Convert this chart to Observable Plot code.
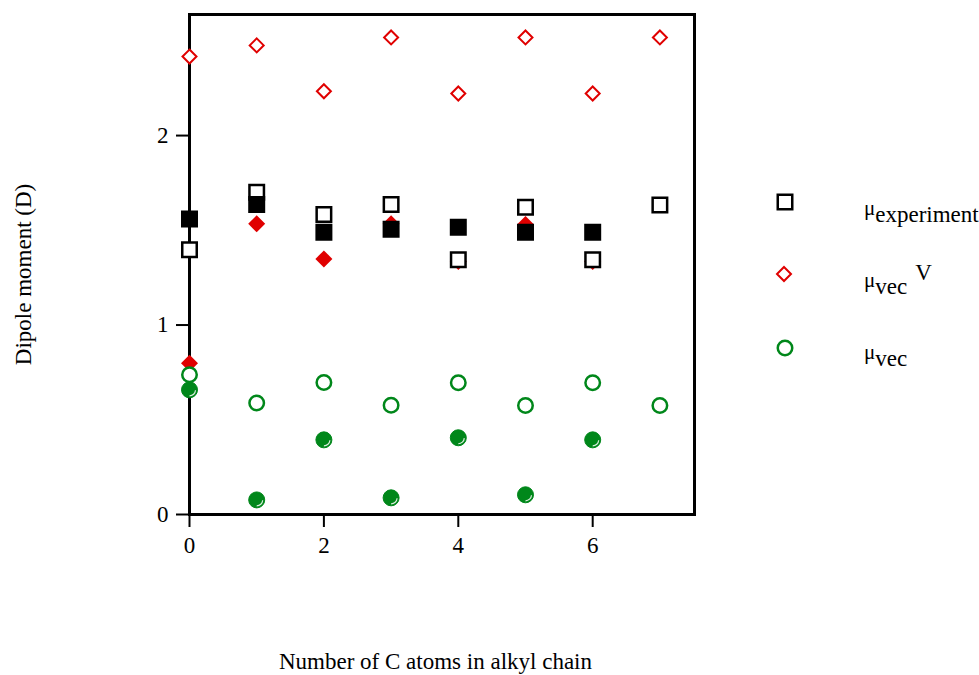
<!DOCTYPE html>
<html><head><meta charset="utf-8">
<script src="https://cdn.jsdelivr.net/npm/d3@7"></script>
<script src="https://cdn.jsdelivr.net/npm/@observablehq/plot@0.6"></script>
<style>body{margin:0;background:#fff} #chart{width:979px;height:675px}</style>
</head><body><div id="chart"></div>
<script>
// ---- data ----
const carbons = [0, 1, 2, 3, 4, 5, 6, 7];
const muExperiment = [1.398, 1.701, 1.583, 1.636, 1.344, 1.622, 1.344, 1.634];      // open black squares
const muExperimentFilled = [1.559, 1.636, 1.490, 1.506, 1.516, 1.490, 1.490];       // filled black squares (0..6)
const muVecV = [2.417, 2.476, 2.234, 2.518, 2.222, 2.518, 2.222, 2.518];            // open red diamonds
const muVecVFilled = [0.798, 1.534, 1.349, 1.535, 1.335, 1.530, 1.335];             // filled red diamonds (0..6)
const muVec = [0.737, 0.589, 0.697, 0.577, 0.695, 0.575, 0.695, 0.575];             // open green circles
const muVecFilled = [0.658, 0.077, 0.394, 0.088, 0.405, 0.104, 0.394];              // filled green circles (0..6)
const xTicks = [0, 2, 4, 6];
const yTicks = [0, 1, 2];
const xTitle = "Number of C atoms in alkyl chain";
const yTitle = "Dipole moment (D)";

const RED = "#e00000", GREEN = "#00871a";
const serif = "'Liberation Serif','Times New Roman',Times,serif";
const FS = 23;
const rows = vals => vals.map((v, i) => ({c: carbons[i], v}));

const crescent = {
  draw(ctx, size) {
    const r = Math.sqrt(size / Math.PI);
    const a0 = 0.02 * Math.PI, a1 = 0.5 * Math.PI;
    ctx.moveTo(r * Math.cos(a0), r * Math.sin(a0));
    ctx.arc(0, 0, r, a0, a1);
  }
};

const plot = Plot.plot({
  width: 979, height: 675,
  marginLeft: 189, marginRight: 285, marginTop: 14, marginBottom: 161,
  style: {fontFamily: serif, fontSize: FS + "px", background: "white", color: "black", overflow: "visible"},
  x: {domain: [0, 7.515]},
  y: {domain: [0, 2.639]},
  marks: [
    Plot.frame({stroke: "black", strokeWidth: 3}),
    Plot.axisY({ticks: yTicks, tickSize: 13, tickPadding: 8, strokeWidth: 2, fontSize: FS, label: null, tickFormat: d => d}),
    Plot.axisX({ticks: xTicks, tickSize: 13, tickPadding: 9, strokeWidth: 2, fontSize: FS, label: null, tickFormat: d => d}),
    Plot.text([xTitle], {text: d => d, frameAnchor: "bottom", textAnchor: "middle", lineAnchor: "bottom", dx: -6.5, dy: 154, fontSize: FS}),
    Plot.text([yTitle], {text: d => d, frameAnchor: "left", textAnchor: "middle", rotate: -90, lineAnchor: "bottom", dx: -159, dy: 10, fontSize: FS}),
    // filled red diamonds
    Plot.dot(rows(muVecVFilled), {x: "c", y: "v", symbol: "diamond2", r: 7.66, fill: RED, stroke: "none"}),
    // open black squares
    Plot.dot(rows(muExperiment), {x: "c", y: "v", symbol: "square", r: 8.18, fill: "white", stroke: "black", strokeWidth: 2.5}),
    // filled black squares
    Plot.dot(rows(muExperimentFilled), {x: "c", y: "v", symbol: "square", r: 8.18, fill: "black", stroke: "black", strokeWidth: 2.5}),
    // open red diamonds
    Plot.dot(rows(muVecV), {x: "c", y: "v", symbol: "diamond2", r: 6.3, fill: "white", stroke: RED, strokeWidth: 2}),
    // filled green circles with highlight
    Plot.dot(rows(muVecFilled), {x: "c", y: "v", r: 8, fill: GREEN, stroke: GREEN, strokeWidth: 1}),
    Plot.dot(rows(muVecFilled), {x: "c", y: "v", symbol: crescent, r: 6, fill: "none", stroke: "white", strokeWidth: 1.2, strokeOpacity: 0.85}),
    // open green circles
    Plot.dot(rows(muVec), {x: "c", y: "v", r: 7.25, fill: "white", stroke: GREEN, strokeWidth: 2.5})
  ]
});
document.getElementById("chart").appendChild(plot);

// ---- legend ----
const svg = d3.select(plot);
const leg = svg.append("g").attr("font-family", serif).attr("fill", "black").attr("text-anchor", "start");
leg.append("rect").attr("x", 785 - 7.25).attr("y", 202 - 7.25).attr("width", 14.5).attr("height", 14.5)
  .attr("fill", "white").attr("stroke", "black").attr("stroke-width", 2.5);
leg.append("path").attr("d", "M784,267L791,274L784,281L777,274Z")
  .attr("fill", "white").attr("stroke", RED).attr("stroke-width", 2);
leg.append("circle").attr("cx", 785).attr("cy", 348).attr("r", 7.25)
  .attr("fill", "white").attr("stroke", GREEN).attr("stroke-width", 2.5);

function muLabel(x, y, sub, sup) {
  const t = leg.append("text").attr("x", x).attr("y", y).attr("font-size", 21);
  t.append("tspan").text("μ");
  t.append("tspan").attr("dy", 7).attr("font-size", 23).text(sub);
  if (sup) t.append("tspan").attr("dx", 8).attr("dy", -14).attr("font-size", 23).text(sup);
}
muLabel(864, 215, "experiment");
muLabel(864, 287, "vec", "V");
muLabel(864, 359, "vec");
</script>
</body></html>
